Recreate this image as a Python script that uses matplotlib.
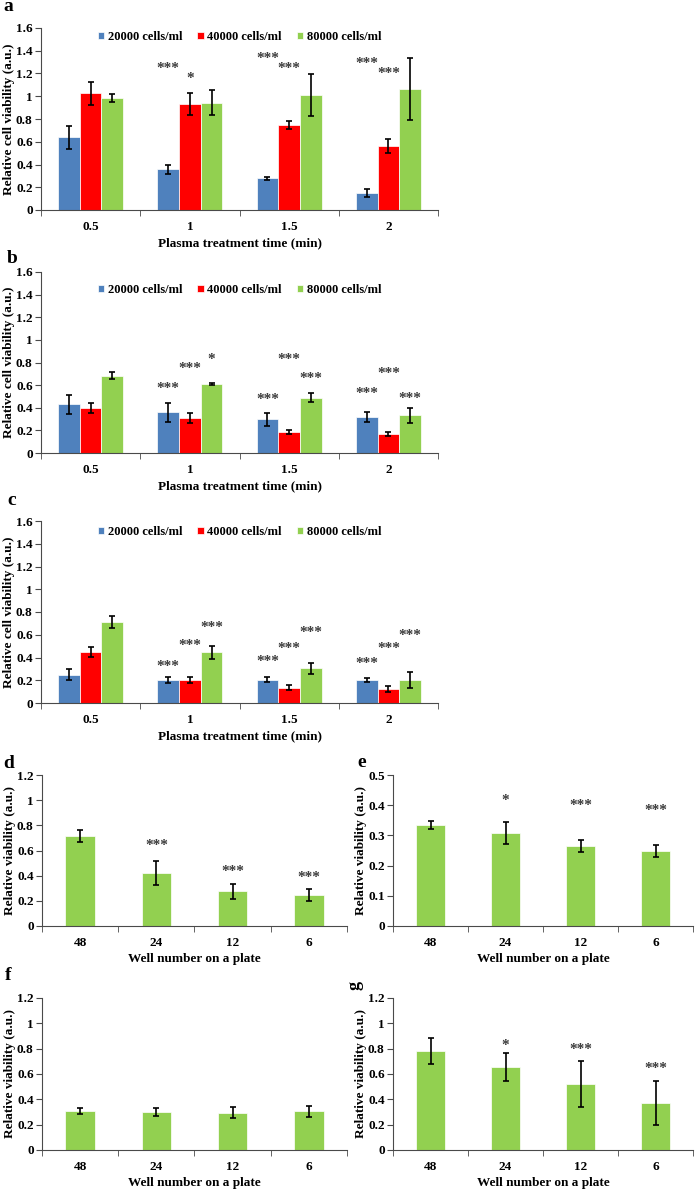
import matplotlib.pyplot as plt
from matplotlib.ticker import FuncFormatter, FixedLocator
import numpy as np

plt.rcParams['font.family'] = ['Liberation Serif', 'DejaVu Serif']
plt.rcParams['font.weight'] = 'bold'
plt.rcParams['axes.labelweight'] = 'bold'
plt.rcParams['font.size'] = 9.5

# ---- data ----
times = ['0.5', '1', '1.5', '2']
series = ['20000 cells/ml', '40000 cells/ml', '80000 cells/ml']
colors = ['#4F81BD', '#FF0000', '#92D050']

a_vals = [[0.64, 0.357, 0.278, 0.152],
          [1.027, 0.933, 0.746, 0.564],
          [0.983, 0.945, 1.009, 1.065]]
a_errs = [[0.10, 0.04, 0.01, 0.035],
          [0.10, 0.095, 0.035, 0.06],
          [0.035, 0.11, 0.187, 0.27]]
# (group, series, text, y)
a_stars = [(1, 0, '***', 1.24), (1, 1, '*', 1.16),
           (2, 0, '***', 1.33), (2, 1, '***', 1.24),
           (3, 0, '***', 1.29), (3, 1, '***', 1.20)]

b_vals = [[0.43, 0.359, 0.297, 0.321],
          [0.397, 0.306, 0.184, 0.166],
          [0.685, 0.607, 0.487, 0.332]]
b_errs = [[0.087, 0.085, 0.057, 0.045],
          [0.045, 0.045, 0.02, 0.018],
          [0.03, 0.008, 0.04, 0.067]]
b_stars = [(1, 0, '***', 0.57), (1, 1, '***', 0.745), (1, 2, '*', 0.83),
           (2, 0, '***', 0.47), (2, 1, '***', 0.83), (2, 2, '***', 0.655),
           (3, 0, '***', 0.525), (3, 1, '***', 0.70), (3, 2, '***', 0.48)]

c_vals = [[0.249, 0.202, 0.205, 0.205],
          [0.448, 0.199, 0.135, 0.123],
          [0.712, 0.445, 0.305, 0.199]]
c_errs = [[0.047, 0.03, 0.023, 0.018],
          [0.044, 0.026, 0.022, 0.025],
          [0.05, 0.058, 0.047, 0.07]]
c_stars = [(1, 0, '***', 0.322), (1, 1, '***', 0.507), (1, 2, '***', 0.668),
           (2, 0, '***', 0.366), (2, 1, '***', 0.483), (2, 2, '***', 0.618),
           (3, 0, '***', 0.351), (3, 1, '***', 0.483), (3, 2, '***', 0.595)]

wells = ['48', '24', '12', '6']
d_vals = [0.715, 0.421, 0.275, 0.246]
d_errs = [0.05, 0.093, 0.06, 0.049]
d_stars = [(1, '***', 0.638), (2, '***', 0.43), (3, '***', 0.384)]

e_vals = [0.334, 0.309, 0.266, 0.249]
e_errs = [0.013, 0.036, 0.02, 0.019]
e_stars = [(1, '*', 0.417), (2, '***', 0.40), (3, '***', 0.384)]

f_vals = [0.31, 0.30, 0.295, 0.305]
f_errs = [0.025, 0.035, 0.045, 0.042]

g_vals = [0.781, 0.654, 0.522, 0.371]
g_errs = [0.103, 0.11, 0.18, 0.17]
g_stars = [(1, '*', 0.826), (2, '***', 0.795), (3, '***', 0.644)]

star_color = '#3a3a3a'
axis_color = '#4a4a4a'


def fmt(v, pos):
    return '%g' % round(v, 2)


def style_axes(ax, ymax, ystep, labels, xlabel, ylabel):
    ax.set_xlim(-0.5, 3.5)
    ax.set_ylim(0, ymax)
    ax.set_yticks(np.arange(0, ymax + 1e-9, ystep))
    ax.yaxis.set_major_formatter(FuncFormatter(fmt))
    ax.set_xticks(range(4))
    ax.set_xticklabels(labels)
    ax.xaxis.set_minor_locator(FixedLocator([-0.5, 0.5, 1.5, 2.5, 3.5]))
    ax.tick_params(axis='x', which='major', length=0, pad=8)
    ax.tick_params(axis='x', which='minor', length=4, direction='out', color=axis_color)
    ax.tick_params(axis='y', length=4, direction='out', color=axis_color, pad=2)
    for s in ['top', 'right']:
        ax.spines[s].set_visible(False)
    for s in ['left', 'bottom']:
        ax.spines[s].set_color(axis_color)
    ax.set_xlabel(xlabel, labelpad=3)
    ax.set_ylabel(ylabel, labelpad=1)


def grouped(ax, vals, errs, stars, legend_y):
    w = 0.218
    x = np.arange(4)
    for i in range(3):
        ax.bar(x + (i - 1) * w, vals[i], w, color=colors[i], edgecolor='white',
               linewidth=0.5, label=series[i])
        ax.errorbar(x + (i - 1) * w, vals[i], yerr=errs[i], fmt='none',
                    ecolor='black', elinewidth=1.2, capsize=2, capthick=1.2)
    for g, s, t, y in stars:
        ax.text(g + (s - 1) * w, y, t, ha='center', va='center', fontsize=11,
                fontweight='bold', color=star_color)
    style_axes(ax, 1.6, 0.2, times, 'Plasma treatment time (min)',
               'Relative cell viability (a.u.)')
    ax.legend(loc='center', bbox_to_anchor=(0.5, legend_y), ncol=3, frameon=False,
              handlelength=0.5, handleheight=0.5, handletextpad=0.3,
              columnspacing=1.2, fontsize=9)


def single(ax, vals, errs, stars, ymax, ystep):
    w = 0.39
    x = np.arange(4)
    ax.bar(x, vals, w, color=colors[2], edgecolor='white', linewidth=0.5)
    ax.errorbar(x, vals, yerr=errs, fmt='none', ecolor='black',
                elinewidth=1.2, capsize=2, capthick=1.2)
    for g, t, y in stars:
        ax.text(g, y, t, ha='center', va='center', fontsize=11,
                fontweight='bold', color=star_color)
    style_axes(ax, ymax, ystep, wells, 'Well number on a plate',
               'Relative viability (a.u.)')


fig = plt.figure(figsize=(6.97, 11.9), dpi=100)
W, H = 697.0, 1190.0


def add_ax(x0, x1, y0, y1):
    return fig.add_axes([x0 / W, 1 - y1 / H, (x1 - x0) / W, (y1 - y0) / H])


ax_a = add_ax(41, 438, 28, 210)
ax_b = add_ax(41, 438, 272, 453)
ax_c = add_ax(41, 438, 521, 703)
ax_d = add_ax(42, 347, 775, 926)
ax_e = add_ax(393, 693, 775, 926)
ax_f = add_ax(42, 347, 998, 1150)
ax_g = add_ax(393, 693, 998, 1150)

grouped(ax_a, a_vals, a_errs, a_stars, 0.95)
grouped(ax_b, b_vals, b_errs, b_stars, 0.90)
grouped(ax_c, c_vals, c_errs, c_stars, 0.94)
single(ax_d, d_vals, d_errs, d_stars, 1.2, 0.2)
single(ax_e, e_vals, e_errs, e_stars, 0.5, 0.1)
single(ax_f, f_vals, f_errs, [], 1.2, 0.2)
single(ax_g, g_vals, g_errs, g_stars, 1.2, 0.2)

# panel letters
for letter, px, py, rot in [('a', 3, 11, 0), ('b', 7, 263, 0), ('c', 7, 505, 0),
                            ('d', 3, 768, 0), ('e', 357, 767, 0), ('f', 5, 980, 0)]:
    fig.text(px / W, 1 - py / H, letter, fontsize=14, fontweight='bold',
             ha='left', va='baseline', rotation=rot)
fig.text(355 / W, 1 - 986 / H, 'g', fontsize=13, fontweight='bold',
         ha='center', va='center', rotation=90)

fig.savefig('out.png', dpi=100)
